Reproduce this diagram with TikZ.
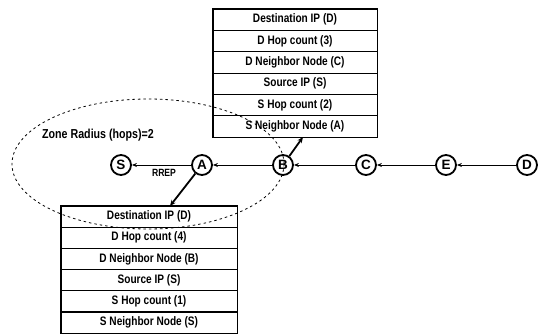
\documentclass[tikz,border=0pt]{standalone}
\usepackage{fontspec}
\setmainfont{Liberation Sans}
\newfontfamily\narrowfont[FakeStretch=0.82]{Liberation Sans}
\usetikzlibrary{arrows.meta,shapes.geometric}

\tikzset{
  rowbox/.style={draw, line width=0.7pt, minimum height=21.3pt, inner sep=0pt,
                 font=\narrowfont\bfseries\fontsize{12.3}{13}\selectfont},
  toprow/.style={rowbox, minimum width=164pt},
  botrow/.style={rowbox, minimum width=176pt, minimum height=21.2pt},
  frame/.style={draw, line width=1.4pt},
  hop/.style={circle, draw, line width=1.8pt, minimum size=20pt, inner sep=0pt,
              font=\bfseries\fontsize{13.5}{14}\selectfont},
  flow/.style={line width=0.7pt, -{Stealth[length=5pt,width=4pt]}},
  cache/.style={line width=1.8pt, -{Stealth[length=6pt,width=5pt]}},
  zone/.style={ellipse, draw, dashed, dash pattern=on 2.5pt off 3pt, line width=0.8pt,
               minimum width=272pt, minimum height=130pt, inner sep=0pt},
  lbl/.style={font=\narrowfont\bfseries\fontsize{13}{13}\selectfont, inner sep=0pt}
}

\begin{document}
\begin{tikzpicture}[x=1pt, y=-1pt]
\useasboundingbox (0,0) rectangle (547,334);

% route cache kept at B
\foreach \i/\t in {1/Destination IP (D), 2/D Hop count (3), 3/D Neighbor Node (C),
                   4/Source IP (S), 5/S Hop count (2), 6/S Neighbor Node (A)}
  \node[toprow] (b\i) at (295, {9+21.33*(\i-0.5)}) {\t};
\draw[frame] (b1.north west) rectangle (b6.south east);

% route cache kept at A
\foreach \i/\t in {1/Destination IP (D), 2/D Hop count (4), 3/D Neighbor Node (B),
                   4/Source IP (S), 5/S Hop count (1), 6/S Neighbor Node (S)}
  \node[botrow] (a\i) at (149, {206+21.17*(\i-0.5)}) {\t};
\draw[frame] (a1.north west) rectangle (a6.south east);

% the path S - A - B - C - E - D
\node[hop] (S) at (121,165) {S};
\node[hop] (A) at (202,165) {A};
\node[hop] (B) at (283,165) {B};
\node[hop] (C) at (366,165) {C};
\node[hop] (E) at (446,165) {E};
\node[hop] (D) at (527,165) {D};

\draw[flow] (D) -- (E);
\draw[flow] (E) -- (C);
\draw[flow] (C) -- (B);
\draw[flow] (B) -- (A);
\draw[flow] (A) -- (S);

\node[lbl, font=\narrowfont\bfseries\fontsize{10.5}{11}\selectfont] (rrep) at (164,173) {RREP};

% cache updates
\coordinate (bt) at (303,137);
\coordinate (at) at (170,206);
\draw[cache] (B) -- (bt);
\draw[cache] (A) -- (at);

% routing zone of S
\node[zone] (zoneS) at (148,164) {};
\node[lbl, anchor=west] (zlabel) at (42,135) {Zone Radius (hops)=2};
\end{tikzpicture}
\end{document}
